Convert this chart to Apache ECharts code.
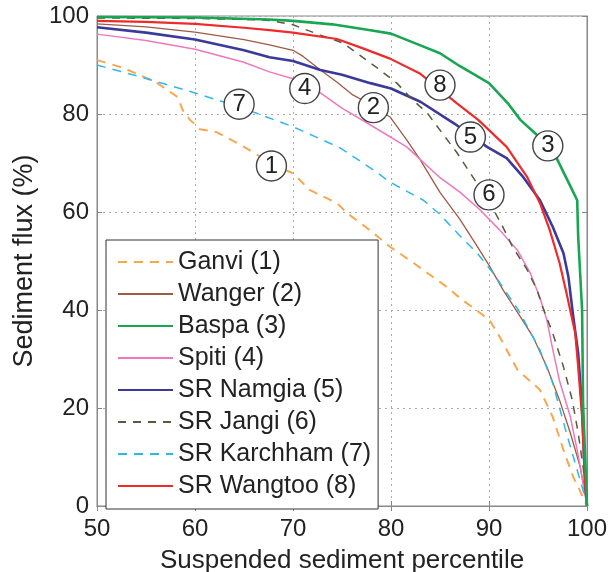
<!DOCTYPE html>
<html>
<head>
<meta charset="utf-8">
<script src="https://cdn.jsdelivr.net/npm/echarts@6/dist/echarts.min.js"></script>
<style>html,body{margin:0;padding:0;background:#fff}#c{width:609px;height:572px}</style>
</head>
<body>
<div id="c"></div>
<script>
var seriesNames = ['Ganvi (1)','Wanger (2)','Baspa (3)','Spiti (4)','SR Namgia (5)','SR Jangi (6)','SR Karchham (7)','SR Wangtoo (8)'];

var ganvi = [[50,91],[52.7,89.4],[56,86.5],[58.2,83.5],[58.8,80.6],[59.5,78.8],[60.5,76.9],[62.2,76.3],[65,73.3],[68.4,69.2],[70,67.9],[71.7,64.5],[74.5,61.8],[75.5,59.8],[77.7,56.5],[79.9,52.9],[82.3,49.6],[85.7,44.7],[87,42.5],[89.1,39.4],[90.1,37.8],[91.1,34.5],[92.9,27.8],[95.2,23.7],[96.5,18.2],[97.6,11.4],[98.6,5.9],[99.6,1.8],[100,0]];
var wanger = [[50,98.4],[55,97.8],[60,96.7],[65,95.2],[67.6,94.1],[70,93],[71,91.8],[72.8,89],[74.5,86.5],[76.1,83.9],[77.5,82.4],[79.9,79.4],[81.6,74.7],[83,70.6],[85,64],[87,58.6],[88.8,53],[90.1,48.8],[91.4,44.2],[92.6,40.5],[94.5,34.5],[95.9,28.4],[97.2,21.6],[98.3,14.9],[99.3,8],[99.8,2.7],[100,0]];
var baspa = [[50,99.8],[60,99.7],[67.6,99.3],[70,99],[74,98.3],[77.9,97.1],[80,96.4],[83,94],[85,92.4],[87,89.8],[90,86.3],[92,82],[93.2,78.8],[94.9,75.7],[96.9,71],[98.1,66.1],[99,62.4],[99.1,55],[99.5,40],[99.6,21],[100,0]];
var spiti = [[50,96.3],[55,95],[60,93.2],[64.9,90.6],[67.6,88.6],[70,87.2],[72.8,84.3],[75,81.2],[78.2,77.4],[81.6,73.3],[85,67],[87,64.1],[89.1,60.4],[91.1,56.3],[92.9,52.2],[94.2,47.6],[95.2,42.5],[95.9,38],[96.5,32],[97.2,25.5],[98.3,18.2],[99,11.4],[99.6,4.7],[100,0]];
var namgia = [[50,97.7],[55,96.6],[60,95.2],[65,93],[67.6,91.6],[70,90.8],[72.8,89],[75,88],[77.9,86.3],[80,85.2],[83,82.5],[86.5,78],[89.8,73.3],[91.8,71],[93.5,67.1],[95.2,62.4],[96.5,57],[97.6,51.6],[98.1,46.8],[98.6,38.6],[99.1,31.2],[99.5,20],[99.8,5],[100,0]];
var jangi = [[50,99.6],[60,99.5],[65,99.3],[67.6,99.1],[70,98.2],[72.8,96.1],[75.1,94.5],[76.8,92],[78.6,89.4],[80.6,86.3],[82.2,82.9],[83.7,80.2],[85,76.7],[86.7,72.2],[88.1,67.9],[90.1,61.8],[91.4,57],[92.4,52.9],[93.9,48.2],[94.9,44.1],[95.5,40.5],[96.5,35.3],[97.6,28.4],[98.5,21.6],[99.1,14.9],[99.6,8],[100,0]];
var karchham = [[50,90],[54.4,87.6],[60,84.3],[64.6,81.4],[70,77.4],[74.8,73.1],[78.2,68.6],[79.9,66.1],[83.3,62.4],[85,59.5],[87,55.2],[88.8,51.6],[90.4,47.6],[91.8,43.5],[93,40],[95.2,31.8],[96.5,25.1],[97.9,14.9],[98.9,8],[99.8,1.8],[100,0]];
var wangtoo = [[50,99],[55,98.8],[60,98.4],[65,97.6],[67.6,97.1],[70,96.6],[74.5,95.3],[77,93.5],[79.9,91.3],[83,88.2],[86.7,82.2],[88.9,78.8],[91.8,73.3],[93.9,67.1],[95.2,61.8],[96.2,56.3],[97.2,49.6],[97.9,43.5],[98.5,38],[98.8,35.3],[99.1,28.4],[99.5,18.2],[99.8,4.7],[100,0]];

// circled number annotations [x, y, text] in data coordinates
var circleLabels = [[67.8,69.4,'1'],[78.2,81.3,'2'],[96.0,73.5,'3'],[71.2,85.2,'4'],[88.1,75.3,'5'],[90.0,63.5,'6'],[64.5,82.0,'7'],[85.0,85.9,'8']];

var xTicks = [50,60,70,80,90,100];
var yTicks = [0,20,40,60,80,100];

var FONT = "'Liberation Sans', Arial, Helvetica, sans-serif";
var colors = ['#F6A84E','#9E5A43','#17A651','#EF78BC','#3A3A9A','#5A5A3C','#30B8E8','#EE2A2A'];
var widths = [2,1.3,2.6,1.5,2.6,1.5,1.5,2.2];
var types = [[9,7],'solid','solid','solid','solid',[8,7],[9,7],'solid'];
var dataSets = [ganvi,wanger,baspa,spiti,namgia,jangi,karchham,wangtoo];

var series = dataSets.map(function(d,i){
  return {
    name: seriesNames[i], type:'line', data:d, showSymbol:false, symbol:'none',
    smooth:false, z: 2 + (i===2?1:0),
    lineStyle:{color:colors[i], width:widths[i], type:types[i], join:'round'},
    itemStyle:{color:colors[i]}, animation:false
  };
});
series.push({
  type:'scatter', data:circleLabels.map(function(p){return [p[0],p[1],p[2]];}),
  symbol:'circle', symbolSize:30, z:10, silent:true, animation:false,
  itemStyle:{color:'#fff', borderColor:'#444', borderWidth:1.4, opacity:1},
  label:{show:true, position:'inside', formatter:function(p){return p.value[2];}, fontSize:24, color:'#222', fontFamily:FONT}
});

var axisCommon = {
  type:'value', axisLine:{show:true, lineStyle:{color:'#888', width:1}},
  axisTick:{show:true, inside:true, length:5, lineStyle:{color:'#888'}}
};

var chart = echarts.init(document.getElementById('c'), null, {renderer:'canvas'});
chart.setOption({
  backgroundColor:'#fff',
  animation:false,
  grid:{left:97, top:16, width:490, height:490, show:true, borderColor:'#888', borderWidth:1, backgroundColor:'transparent', containLabel:false, outerBoundsMode:'none'},
  legend:{
    data:seriesNames, orient:'vertical', left:106, top:240,
    itemWidth:55, itemHeight:14, itemGap:6,
    padding:[9,7,10,11],
    borderColor:'#333', borderWidth:1, backgroundColor:'#fff',
    itemStyle:{opacity:0},
    textStyle:{fontSize:25, color:'#222', fontFamily:FONT, lineHeight:26},
    selectedMode:false
  },
  xAxis:[
    Object.assign({}, axisCommon, {
      position:'bottom', min:50, max:100, interval:10,
      name:'Suspended sediment percentile', nameLocation:'middle', nameGap:42,
      nameTextStyle:{fontSize:26, color:'#222', fontFamily:FONT},
      axisLabel:{fontSize:24, color:'#222', fontFamily:FONT, margin:11, formatter:function(v){return xTicks.indexOf(v)>=0?String(v):'';}},
      splitLine:{show:true, lineStyle:{color:'#aaa', type:[2,4], width:1}}
    }),
    Object.assign({}, axisCommon, {position:'top', min:50, max:100, interval:10, axisLabel:{show:false}, splitLine:{show:false}})
  ],
  yAxis:[
    Object.assign({}, axisCommon, {
      position:'left', min:0, max:100, interval:20,
      name:'Sediment flux (%)', nameLocation:'middle', nameGap:52,
      nameTextStyle:{fontSize:27, color:'#222', fontFamily:FONT},
      axisLabel:{fontSize:24, color:'#222', fontFamily:FONT, margin:8, formatter:function(v){return yTicks.indexOf(v)>=0?String(v):'';}},
      splitLine:{show:true, lineStyle:{color:'#aaa', type:[2,4], width:1}}
    }),
    Object.assign({}, axisCommon, {position:'right', min:0, max:100, interval:20, axisLabel:{show:false}, splitLine:{show:false}})
  ],
  series:series
});
</script>
</body>
</html>
